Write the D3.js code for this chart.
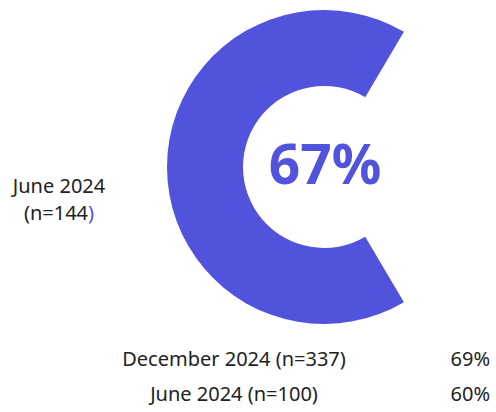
<!DOCTYPE html>
<html><head><meta charset="utf-8">
<script src="https://cdn.jsdelivr.net/npm/d3@7"></script>
<style>html,body{margin:0;padding:0;background:#fff;}svg{display:block;}</style>
</head><body>
<svg id="c" width="496" height="412"></svg>
<script>
const mainLabel = ["June 2024", "(n=144"];
const mainValue = 67;
const compareLabels = ["December 2024 (n=337)", "June 2024 (n=100)"];
const compareValues = [69, 60];

const W = 496, H = 412;
const color = "#5253dc";
const font = "'Noto Sans', sans-serif";
const svg = d3.select("#c");

const cx = 324, cy = 167, rOut = 157, rIn = 81;
const g = svg.append("g").attr("transform", `translate(${cx},${cy})`);

const angle = d3.scaleLinear().domain([0, 100]).range([0, 2 * Math.PI]);
const span = angle(mainValue);
const start = -Math.PI / 2 - span / 2;
const arc = d3.arc().innerRadius(rIn).outerRadius(rOut);
g.append("path")
  .attr("d", arc({startAngle: start, endAngle: start + span}))
  .attr("fill", color);

g.append("text")
  .attr("x", 1).attr("y", 17)
  .attr("text-anchor", "middle")
  .attr("font-family", font).attr("font-weight", 700)
  .attr("font-size", 55).attr("fill", color)
  .text(mainValue + "%");

const lbl = svg.append("text")
  .attr("text-anchor", "middle")
  .attr("font-family", font).attr("font-size", 20).attr("fill", "#222");
lbl.append("tspan").attr("x", 59).attr("y", 193).text(mainLabel[0]);
const l2 = lbl.append("tspan").attr("x", 59).attr("y", 220);
l2.append("tspan").text(mainLabel[1]);
l2.append("tspan").attr("fill", color).text(")");

const rows = [366, 401];
compareLabels.forEach((d, i) => {
  svg.append("text").attr("x", 234).attr("y", rows[i])
    .attr("text-anchor", "middle")
    .attr("font-family", font).attr("font-size", 20).attr("fill", "#222")
    .text(d);
  svg.append("text").attr("x", 490).attr("y", rows[i])
    .attr("text-anchor", "end")
    .attr("font-family", font).attr("font-size", 20).attr("fill", "#222")
    .text(compareValues[i] + "%");
});
</script>
</body></html>
